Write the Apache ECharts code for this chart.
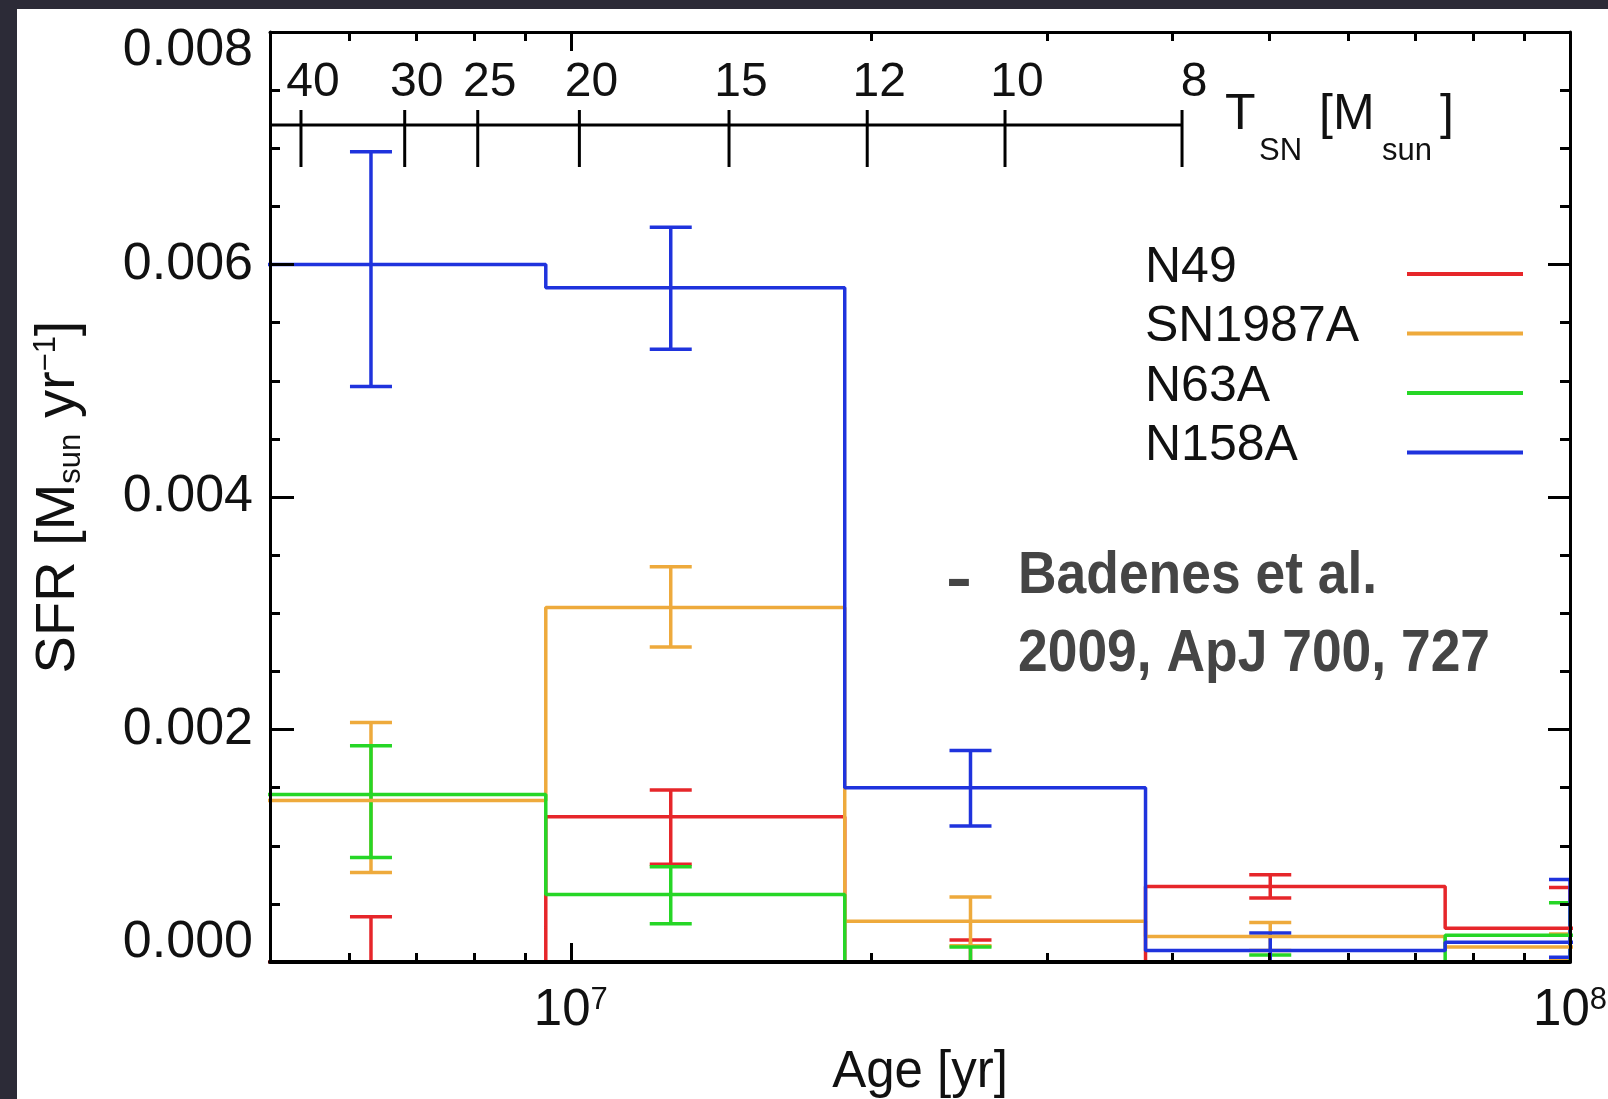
<!DOCTYPE html>
<html>
<head>
<meta charset="utf-8">
<script src="https://cdn.jsdelivr.net/npm/echarts@6/dist/echarts.min.js"></script>
<style>
  html, body { margin: 0; padding: 0; width: 1608px; height: 1099px; overflow: hidden; background: #2c2b37; }
  #panel { position: absolute; left: 17px; top: 9px; width: 1591px; height: 1090px; background: #ffffff; }
  #chart { width: 1591px; height: 1090px; }
</style>
</head>
<body>
<div id="panel"><div id="chart"></div></div>
<script>
// ---- data -------------------------------------------------------------
const seriesNames  = ['N49', 'SN1987A', 'N63A', 'N158A'];
const seriesColors = ['#e6262a', '#eeaa3c', '#26d626', '#1f33dd'];

// age bins (yr): step edges and the ages where the error bars sit
const binEdges = [4.73e6, 9.44e6, 1.88e7, 3.76e7, 7.5e7, 1.5e8];
const errAges  = [6.31e6, 1.259e7, 2.512e7, 5.012e7, 1.0e8];

// star formation rate per bin (Msun/yr) with lower / upper error limits
const sfrN49  = [0.0,     0.00125, 0.0,     0.00065, 0.00029];
const hiN49   = [0.00039, 0.00148, 0.00019, 0.00075, 0.00064];
const loN49   = [-0.00039, 0.00084, -0.00019, 0.00055, -0.00006];

const sfrSN1987A = [0.00139, 0.00305, 0.00035, 0.00022, 0.00013];
const hiSN1987A  = [0.00206, 0.00340, 0.00056, 0.00034, 0.00024];
const loSN1987A  = [0.00077, 0.00271, 0.00014, 0.00010, 0.00002];

const sfrN63A = [0.00144, 0.00058, 0.0,      0.0,      0.00023];
const hiN63A  = [0.00186, 0.00082, 0.00013,  0.00006,  0.00051];
const loN63A  = [0.00090, 0.00033, -0.00013, -0.00006, -0.00005];

const sfrN158A = [0.00600, 0.00580, 0.00150, 0.00010,  0.00017];
const hiN158A  = [0.00697, 0.00632, 0.00182, 0.00025,  0.00071];
const loN158A  = [0.00495, 0.00527, 0.00117, -0.00005, 0.00004];

// axis ranges and tick values
const ageMin = 5e6, ageMax = 1e8;
const sfrMin = 0, sfrMax = 0.008, sfrStep = 0.002;
const xMajorTicks = [1e7, 1e8];
const xMinorTicks = [6e6, 7e6, 8e6, 9e6, 2e7, 3e7, 4e7, 5e7, 6e7, 7e7, 8e7, 9e7];

// supernova progenitor mass scale (Msun) against stellar lifetime (yr)
const tsnMass = [40, 30, 25, 20, 15, 12, 10, 8];
const tsnAge  = [5.37e6, 6.82e6, 8.07e6, 1.02e7, 1.44e7, 1.98e7, 2.72e7, 4.09e7];

// ---- chart ------------------------------------------------------------
const FONT = '"Liberation Sans", Arial, Helvetica, sans-serif';
const INK = '#111111';
const NOTE = '#454545';

const sfrSets = [
  { sfr: sfrN49, hi: hiN49, lo: loN49 },
  { sfr: sfrSN1987A, hi: hiSN1987A, lo: loSN1987A },
  { sfr: sfrN63A, hi: hiN63A, lo: loN63A },
  { sfr: sfrN158A, hi: hiN158A, lo: loN158A }
];

function stepPoints(vals) {
  return binEdges.map((e, i) => [e, vals[Math.min(i, vals.length - 1)]]);
}
function errPoints(lo, hi) {
  return errAges.map((a, i) => [a, lo[i], hi[i]]);
}

function renderErrorBar(params, api) {
  const x = api.value(0);
  const pLo = api.coord([x, api.value(1)]);
  const pHi = api.coord([x, api.value(2)]);
  const cap = 21;
  const style = { stroke: api.visual('color'), lineWidth: 3.5, fill: null };
  return {
    type: 'group',
    children: [
      { type: 'line', shape: { x1: pLo[0], y1: pLo[1], x2: pHi[0], y2: pHi[1] }, style: style },
      { type: 'line', shape: { x1: pLo[0] - cap, y1: pLo[1], x2: pLo[0] + cap, y2: pLo[1] }, style: style },
      { type: 'line', shape: { x1: pHi[0] - cap, y1: pHi[1], x2: pHi[0] + cap, y2: pHi[1] }, style: style }
    ]
  };
}

// secondary mass axis drawn inside the plot, below the top frame
function renderMassAxis(params, api) {
  const cs = params.coordSys;
  const yLine = cs.y + 93;
  const x = api.coord([api.value(0), sfrMin])[0];
  const ink = { stroke: '#000', lineWidth: 3 };
  const children = [
    { type: 'line', shape: { x1: x, y1: yLine - 15, x2: x, y2: yLine + 42 }, style: ink },
    { type: 'text', x: x + 12, y: yLine - 42,
      style: { text: String(api.value(1)), fontSize: 48, fontFamily: FONT, fill: INK, align: 'center', verticalAlign: 'middle' } }
  ];
  if (params.dataIndex === tsnAge.length - 1) {
    children.push({ type: 'line', shape: { x1: cs.x, y1: yLine, x2: x, y2: yLine }, style: ink });
  }
  return { type: 'group', children: children };
}

const series = [];
sfrSets.forEach((d, k) => {
  series.push({
    type: 'line', name: seriesNames[k], data: stepPoints(d.sfr), step: 'end',
    showSymbol: false, symbol: 'none', clip: true, z: 2,
    lineStyle: { color: seriesColors[k], width: 3.5 }, itemStyle: { color: seriesColors[k] }
  });
  series.push({
    type: 'custom', name: seriesNames[k], data: errPoints(d.lo, d.hi),
    encode: { x: 0, y: [1, 2] }, clip: true, z: 2,
    itemStyle: { color: seriesColors[k] }, renderItem: renderErrorBar
  });
});
series.push({
  type: 'custom', name: 'mass scale', data: tsnAge.map((a, i) => [a, tsnMass[i]]),
  encode: { x: 0 }, clip: false, silent: true, z: 5, renderItem: renderMassAxis
});

const frameLine = { show: true, lineStyle: { color: '#000', width: 3 } };
const baseLine  = { show: true, lineStyle: { color: '#000', width: 4 } };
function logAxis(position, tickValues, tickLen, axisLine, extra) {
  return Object.assign({
    type: 'log', logBase: 10, min: ageMin, max: ageMax, position: position, zlevel: 1, z: 10,
    axisLine: axisLine || { show: false },
    axisTick: { show: true, inside: true, length: tickLen, customValues: tickValues,
                lineStyle: { color: '#000', width: 3 } },
    axisLabel: { show: false },
    splitLine: { show: false }, minorTick: { show: false }, minorSplitLine: { show: false }
  }, extra || {});
}

const noteStyle = { fontSize: 60, fontWeight: 'bold', fontFamily: FONT, fill: NOTE, align: 'left', verticalAlign: 'middle' };

const option = {
  animation: false,
  backgroundColor: '#ffffff',
  textStyle: { fontFamily: FONT, color: INK },
  grid: { left: 253, top: 23, width: 1300, height: 930, containLabel: false, outerBoundsMode: 'none' },
  legend: {
    data: seriesNames, orient: 'vertical', align: 'right', left: 1128, top: 234,
    padding: 0, itemGap: 0.5, itemWidth: 116, itemHeight: 4, icon: 'rect', selectedMode: false,
    formatter: name => '{n|' + name + '}',
    textStyle: { fontSize: 50, fontFamily: FONT, color: INK, lineHeight: 44, padding: [0, 0, 12, 0],
                 rich: { n: { width: 257, align: 'left', fontSize: 50, fontFamily: FONT, color: INK, lineHeight: 44 } } }
  },
  xAxis: [
    logAxis('bottom', xMajorTicks, 19, baseLine, {
      axisLabel: {
        show: true, customValues: xMajorTicks, margin: 23,
        formatter: v => '{b|10}{s|' + Math.round(Math.log10(v)) + '}',
        rich: {
          b: { fontSize: 51, fontFamily: FONT, color: INK, lineHeight: 52 },
          s: { fontSize: 31, fontFamily: FONT, color: INK, lineHeight: 24, verticalAlign: 'top' }
        }
      },
      name: 'Age [yr]', nameLocation: 'middle', nameGap: 85,
      nameTextStyle: { fontSize: 51, fontFamily: FONT, color: INK }
    }),
    logAxis('bottom', xMinorTicks, 9, null),
    logAxis('top', xMajorTicks, 19, frameLine),
    logAxis('top', xMinorTicks, 9, null)
  ],
  yAxis: [
    {
      type: 'value', min: sfrMin, max: sfrMax, interval: sfrStep, position: 'left', zlevel: 1, z: 10,
      axisLine: frameLine,
      axisTick: { show: true, inside: true, length: 24, lineStyle: { color: '#000', width: 3 } },
      minorTick: { show: true, splitNumber: 4, length: 10, lineStyle: { color: '#000', width: 3 } },
      splitLine: { show: false }, minorSplitLine: { show: false },
      axisLabel: {
        show: true, margin: 17, fontSize: 52, fontFamily: FONT, color: INK, lineHeight: 38,
        verticalAlignMinLabel: 'bottom', verticalAlignMaxLabel: 'top',
        formatter: v => v.toFixed(3)
      },
      name: 'SFR [M{sub|sun} yr{sup|\u22121}]', nameLocation: 'middle', nameRotate: 90, nameGap: 183,
      nameTextStyle: {
        fontSize: 56, fontFamily: FONT, color: INK, lineHeight: 56,
        rich: {
          sub: { fontSize: 31, fontFamily: FONT, color: INK, lineHeight: 20, verticalAlign: 'bottom' },
          sup: { fontSize: 31, fontFamily: FONT, color: INK, lineHeight: 20, verticalAlign: 'top' }
        }
      }
    },
    {
      type: 'value', min: sfrMin, max: sfrMax, interval: sfrStep, position: 'right', zlevel: 1, z: 10,
      axisLine: frameLine,
      axisTick: { show: true, inside: true, length: 22, lineStyle: { color: '#000', width: 3 } },
      minorTick: { show: true, splitNumber: 4, length: 10, lineStyle: { color: '#000', width: 3 } },
      splitLine: { show: false }, minorSplitLine: { show: false },
      axisLabel: { show: false }
    }
  ],
  series: series,
  graphic: [
    // mass-axis title
    { type: 'text', x: 1208, y: 106, silent: true,
      style: { text: 'T', fontSize: 50, fontFamily: FONT, fill: INK, align: 'left', verticalAlign: 'middle' } },
    { type: 'text', x: 1242, y: 142, silent: true,
      style: { text: 'SN', fontSize: 31, fontFamily: FONT, fill: INK, align: 'left', verticalAlign: 'middle' } },
    { type: 'text', x: 1302, y: 106, silent: true,
      style: { text: '[M', fontSize: 50, fontFamily: FONT, fill: INK, align: 'left', verticalAlign: 'middle' } },
    { type: 'text', x: 1365, y: 142, silent: true,
      style: { text: 'sun', fontSize: 31, fontFamily: FONT, fill: INK, align: 'left', verticalAlign: 'middle' } },
    { type: 'text', x: 1423, y: 106, silent: true,
      style: { text: ']', fontSize: 50, fontFamily: FONT, fill: INK, align: 'left', verticalAlign: 'middle' } },
    // reference note, set in a condensed bold face
    { type: 'text', x: 929, y: 572, scaleX: 1.3, silent: true,
      style: Object.assign({}, noteStyle, { text: '-' }) },
    { type: 'text', x: 1001, y: 567, scaleX: 0.89, silent: true,
      style: Object.assign({}, noteStyle, { text: 'Badenes et al.' }) },
    { type: 'text', x: 1001, y: 645, scaleX: 0.89, silent: true,
      style: Object.assign({}, noteStyle, { text: '2009, ApJ 700, 727' }) }
  ]
};

const chart = echarts.init(document.getElementById('chart'), null, { renderer: 'canvas' });
chart.setOption(option);
</script>
</body>
</html>
